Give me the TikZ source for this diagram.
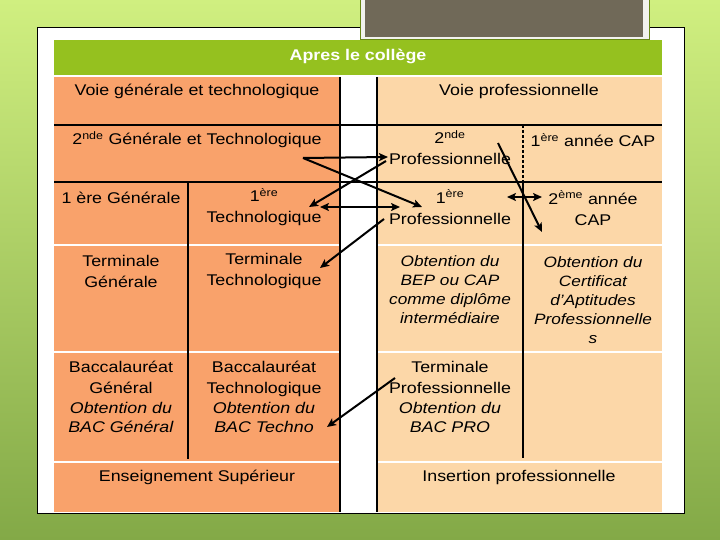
\documentclass[tikz,border=0pt]{standalone}
\usepackage{fontspec}
\setmainfont{Liberation Sans}[FakeStretch=1.15]
\usetikzlibrary{arrows.meta}
\definecolor{bgtop}{HTML}{D0EF80}
\definecolor{bgmid}{HTML}{ACD265}
\definecolor{bgbot}{HTML}{83A947}
\definecolor{hdr}{HTML}{95C11F}
\definecolor{org}{HTML}{F9A26B}
\definecolor{pch}{HTML}{FCD7A8}
\definecolor{graybox}{HTML}{706958}
\definecolor{frame}{HTML}{F2F2EE}
\tikzset{
  txt/.style={font=\fontsize{15.5}{21}\selectfont, align=center, inner sep=0pt, text=black},
  itx/.style={font=\fontsize{15}{19}\selectfont\itshape, align=center, inner sep=0pt, text=black},
  hdrtxt/.style={font=\fontsize{15.5}{19}\selectfont\bfseries, text=white, inner sep=0pt},
  bline/.style={black, line width=2pt},
  wline/.style={white, line width=2pt},
  arr/.style={black, line width=2pt, -{Stealth[length=9pt,width=8pt,inset=2pt]}},
  darr/.style={black, line width=2pt, {Stealth[length=9pt,width=8pt,inset=2pt]}-{Stealth[length=9pt,width=8pt,inset=2pt]}}
}
\begin{document}
\begin{tikzpicture}[x=1pt,y=-1pt]
\useasboundingbox (0,0) rectangle (720,540);
% background
\shade[top color=bgtop, middle color=bgmid, bottom color=bgbot] (0,0) rectangle (720,540);
% panel
\draw[black, line width=0.8pt, fill=white] (37,27) rectangle (684,513);
% top gray box
\draw[fill=frame, draw=hdr!70!black, line width=0.6pt] (360,-2) rectangle (649,39);
\fill[graybox] (365,-2) rectangle (643,37);
% table fills
\fill[hdr] (54,40) rectangle (662,75);
\fill[org] (54,77) rectangle (340,512);
\fill[pch] (377,77) rectangle (662,512);
% white row separators
\foreach \yy in {245,352,462} {
  \draw[wline] (54,\yy) -- (340,\yy);
  \draw[wline] (377,\yy) -- (662,\yy);
}
% black lines
\draw[bline] (54,125) -- (662,125);
\draw[bline] (54,182) -- (662,182);
\draw[bline] (340,77) -- (340,512);
\draw[bline] (377,77) -- (377,512);
\draw[bline] (188,182) -- (188,459);
\draw[black, line width=1.5pt, dash pattern=on 3pt off 2pt] (523,125) -- (523,182);
\draw[bline] (523,182) -- (523,458);
% texts
\node[hdrtxt] (hd) at (358,56) {Apres le collège};
\node[txt] (vgt) at (197,91) {Voie générale et technologique};
\node[txt] (vp) at (519,91) {Voie professionnelle};
\node[txt] (sgt) at (197,140) {2\textsuperscript{nde} Générale et Technologique};
\node[txt] (spro) at (450,148) {2\textsuperscript{nde}\\Professionnelle};
\node[txt] (cap1) at (593,140) {1\textsuperscript{ère} année CAP};
\node[txt] (pg) at (121,198) {1 ère Générale};
\node[txt] (pt) at (264,207) {1\textsuperscript{ère}\\Technologique};
\node[txt] (ppro) at (450,207) {1\textsuperscript{ère}\\Professionnelle};
\node[txt] (cap2) at (593,208) {2\textsuperscript{ème} année\\CAP};
\node[txt] (tg) at (121,271) {Terminale\\Générale};
\node[txt] (tt) at (264,271) {Terminale\\Technologique};
\node[itx] (bep) at (450,290) {Obtention du\\BEP ou CAP\\comme diplôme\\intermédiaire};
\node[itx] (cert) at (593,300) {Obtention du\\Certificat\\d’Aptitudes\\Professionnelle\\s};
\node[txt] (bg) at (121,397) {Baccalauréat\\Général\\[-1.5pt]\textit{Obtention du}\\[-1.5pt]\textit{BAC Général}};
\node[txt] (bt) at (264,397) {Baccalauréat\\Technologique\\[-1.5pt]\textit{Obtention du}\\[-1.5pt]\textit{BAC Techno}};
\node[txt] (tp) at (450,397) {Terminale\\Professionnelle\\[-1.5pt]\textit{Obtention du}\\[-1.5pt]\textit{BAC PRO}};
\node[txt] (es) at (197,477) {Enseignement Supérieur};
\node[txt] (ip) at (519,477) {Insertion professionnelle};
% arrow end points
\coordinate (gtOut) at (303,158);
\coordinate (spIn) at (388,157);
\coordinate (ppIn) at (422,207);
\coordinate (spOut) at (386,161);
\coordinate (ptIn) at (309,207);
\coordinate (ptSide) at (320,207);
\coordinate (ppSide) at (400,207);
\coordinate (ppOut) at (384,219);
\coordinate (ttIn) at (320,268);
\coordinate (tpOut) at (395,378);
\coordinate (btIn) at (327,427);
\coordinate (spOutB) at (498,143);
\coordinate (capIn) at (542,232);
\coordinate (ppSideB) at (507,197);
\coordinate (capSide) at (542,197);
% arrows
\draw[arr] (gtOut) -- (spIn);
\draw[arr] (gtOut) -- (ppIn);
\draw[arr] (spOut) -- (ptIn);
\draw[darr] (ptSide) -- (ppSide);
\draw[arr] (ppOut) -- (ttIn);
\draw[arr] (tpOut) -- (btIn);
\draw[arr] (spOutB) -- (capIn);
\draw[darr] (ppSideB) -- (capSide);
\end{tikzpicture}
\end{document}
